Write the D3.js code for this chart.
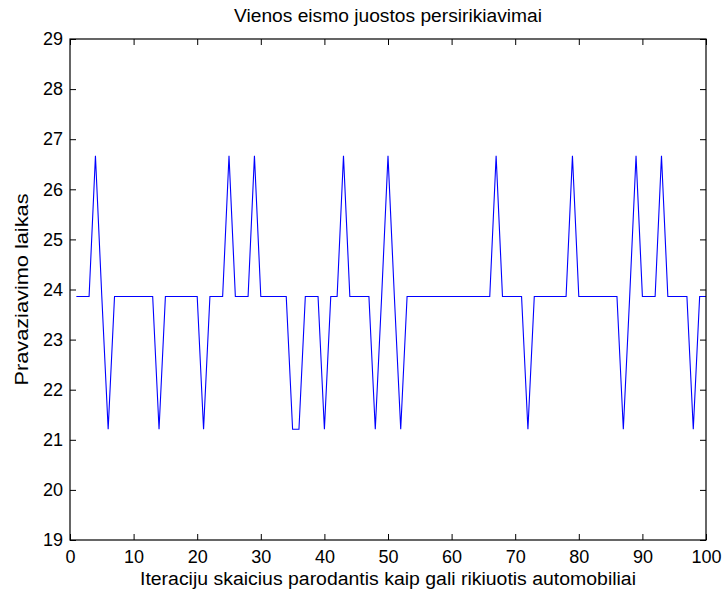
<!DOCTYPE html>
<html>
<head>
<meta charset="utf-8">
<script src="https://cdn.jsdelivr.net/npm/d3@7"></script>
<style>
  html, body { margin: 0; padding: 0; background: #fff; }
  svg { display: block; }
  text { font-family: Arial, "Liberation Sans", Helvetica, sans-serif; fill: #000; }
</style>
</head>
<body>
<svg id="chart" width="725" height="592"></svg>
<script>
// Travel time for each iteration of the single-lane reordering simulation
const travelTime = [
  23.86, 23.86, 23.86, 26.67, 23.86, 21.21, 23.86, 23.86, 23.86, 23.86,
  23.86, 23.86, 23.86, 21.21, 23.86, 23.86, 23.86, 23.86, 23.86, 23.86,
  21.21, 23.86, 23.86, 23.86, 26.67, 23.86, 23.86, 23.86, 26.67, 23.86,
  23.86, 23.86, 23.86, 23.86, 21.21, 21.21, 23.86, 23.86, 23.86, 21.21,
  23.86, 23.86, 26.67, 23.86, 23.86, 23.86, 23.86, 21.21, 23.86, 26.67,
  23.86, 21.21, 23.86, 23.86, 23.86, 23.86, 23.86, 23.86, 23.86, 23.86,
  23.86, 23.86, 23.86, 23.86, 23.86, 23.86, 26.67, 23.86, 23.86, 23.86,
  23.86, 21.21, 23.86, 23.86, 23.86, 23.86, 23.86, 23.86, 26.67, 23.86,
  23.86, 23.86, 23.86, 23.86, 23.86, 23.86, 21.21, 23.86, 26.67, 23.86,
  23.86, 23.86, 26.67, 23.86, 23.86, 23.86, 23.86, 21.21, 23.86, 23.86
];
const xTicks = [0, 10, 20, 30, 40, 50, 60, 70, 80, 90, 100];
const yTicks = [19, 20, 21, 22, 23, 24, 25, 26, 27, 28, 29];
const titleText = "Vienos eismo juostos persirikiavimai";
const xLabelText = "Iteraciju skaicius parodantis kaip gali rikiuotis automobiliai";
const yLabelText = "Pravaziavimo laikas";

const svg = d3.select("#chart");
const W = 725, H = 592;
const margin = { top: 39, right: 19, bottom: 52, left: 70 };
const iw = W - margin.left - margin.right;
const ih = H - margin.top - margin.bottom;

const x = d3.scaleLinear().domain([0, 100]).range([0, iw]);
const y = d3.scaleLinear().domain([19, 29]).range([ih, 0]);

const g = svg.append("g").attr("transform", `translate(${margin.left},${margin.top})`);

// data line
const line = d3.line()
  .x((d, i) => x(i + 1))
  .y(d => y(d));

g.append("path")
  .datum(travelTime)
  .attr("fill", "none")
  .attr("stroke", "#0000ff")
  .attr("stroke-width", 1.1)
  .attr("d", line);

// axes with inward ticks, mirrored on top and right
const tickLen = 6;
function styleAxis(sel) {
  sel.select(".domain").remove();
  sel.selectAll(".tick line").attr("stroke", "#000").attr("stroke-width", 1);
  sel.selectAll(".tick text").style("font-size", "18px").attr("fill", "#000");
}

g.append("g")
  .attr("transform", `translate(0,${ih})`)
  .call(d3.axisBottom(x).tickValues(xTicks).tickSize(-tickLen).tickPadding(10).tickFormat(d3.format("d")))
  .call(styleAxis);

g.append("g")
  .call(d3.axisTop(x).tickValues(xTicks).tickSize(-tickLen).tickFormat(""))
  .call(styleAxis);

g.append("g")
  .call(d3.axisLeft(y).tickValues(yTicks).tickSize(-tickLen).tickPadding(7).tickFormat(d3.format("d")))
  .call(styleAxis);

g.append("g")
  .attr("transform", `translate(${iw},0)`)
  .call(d3.axisRight(y).tickValues(yTicks).tickSize(-tickLen).tickFormat(""))
  .call(styleAxis);

// axes box
g.append("rect")
  .attr("x", 0).attr("y", 0)
  .attr("width", iw).attr("height", ih)
  .attr("fill", "none")
  .attr("stroke", "#000")
  .attr("stroke-width", 1.2);

// title and labels
svg.append("text")
  .attr("x", margin.left + iw / 2)
  .attr("y", 22)
  .attr("text-anchor", "middle")
  .attr("textLength", 308)
  .attr("lengthAdjust", "spacingAndGlyphs")
  .style("font-size", "18px")
  .text(titleText);

svg.append("text")
  .attr("x", margin.left + iw / 2)
  .attr("y", 585)
  .attr("text-anchor", "middle")
  .attr("textLength", 496)
  .attr("lengthAdjust", "spacingAndGlyphs")
  .style("font-size", "18px")
  .text(xLabelText);

svg.append("text")
  .attr("transform", `translate(28,${margin.top + ih / 2}) rotate(-90)`)
  .attr("text-anchor", "middle")
  .attr("textLength", 192)
  .attr("lengthAdjust", "spacingAndGlyphs")
  .style("font-size", "18px")
  .text(yLabelText);
</script>
</body>
</html>
